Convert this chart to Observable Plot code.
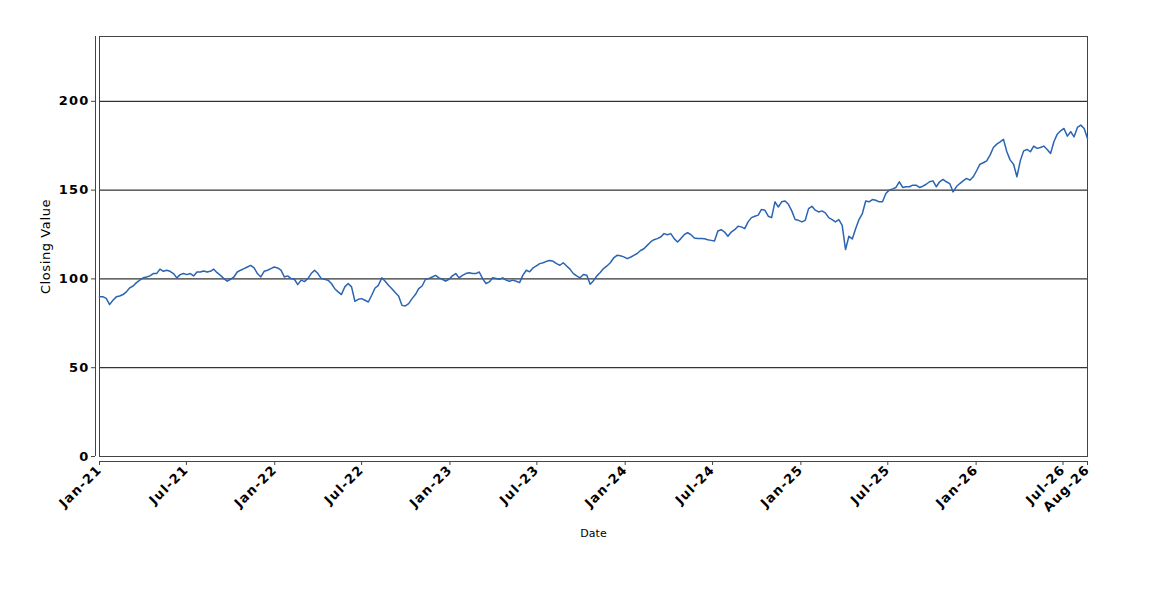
<!DOCTYPE html>
<html>
<head>
<meta charset="utf-8">
<script src="https://cdn.jsdelivr.net/npm/d3@7"></script>
<script src="https://cdn.jsdelivr.net/npm/@observablehq/plot@0.6"></script>
<style>
  html, body { margin: 0; padding: 0; background: #fff; }
  #chart svg { display: block; }
</style>
</head>
<body>
<div id="chart"></div>
<script>
// Weekly closing values (first week starts 2021-01-01)
const startDate = "2021-01-01";
const stepDays = 7;
const closingValues = [
  89.9, 90, 89, 85.5, 88, 89.9, 90.4, 91.2, 92.7, 95,
  96, 97.9, 99.3, 100.6, 101.1, 101.7, 103, 103, 105.5, 104.3,
  104.9, 104.3, 103, 100.6, 102.4, 103, 102.4, 103, 101.7, 103.9,
  103.9, 104.5, 103.9, 104.3, 105.5, 103.5, 102, 100.2, 98.7, 99.8,
  101.1, 103.9, 104.9, 105.8, 106.7, 107.6, 106.2, 103, 101.1, 104.3,
  104.9, 105.8, 106.7, 106.2, 104.9, 101.1, 101.7, 100.2, 99.8, 96.8,
  99.3, 98.5, 100.2, 103, 104.9, 103, 100.2, 99.8, 99.3, 97.4,
  94.5, 92.7, 91.2, 95.5, 97.4, 95.5, 87.4, 88.5, 88.9, 88,
  87, 90.8, 94.9, 96.4, 100.6, 98.7, 96.4, 94.5, 92.3, 90.4,
  85.1, 84.8, 86.1, 88.9, 91.2, 94.5, 96, 99.8, 100.2, 101.1,
  102, 100.6, 99.8, 98.7, 99.8, 101.7, 103, 100.6, 102, 103,
  103.5, 103, 103, 103.9, 100.2, 97.4, 98.3, 100.6, 100.2, 99.8,
  100.6, 99.3, 98.7, 99.3, 98.7, 97.9, 102.1, 104.9, 104, 106.2,
  107.3, 108.6, 109.1, 109.9, 110.4, 109.9, 108.6, 107.7, 109.1, 107.3,
  105.5, 103, 101.7, 100.6, 102.5, 102.1, 97, 99, 101.7, 103.6,
  105.8, 107.3, 109.1, 111.8, 113.3, 113, 112.4, 111.4, 112.2, 113.3,
  114.3, 116, 117, 118.9, 120.8, 122.1, 122.7, 123.6, 125.5, 124.9,
  125.5, 122.7, 120.8, 122.7, 124.9, 126, 124.9, 123, 122.7, 122.7,
  122.6, 122.1, 121.7, 121.3, 127, 127.7, 126.4, 124, 126.4, 127.7,
  129.6, 129.3, 128.3, 132.1, 134.5, 135.3, 135.9, 139.1, 138.7, 135.3,
  134.5, 143.4, 140.5, 143.4, 143.9, 142, 138.3, 133.4, 133, 132.1,
  133, 139.6, 140.9, 138.7, 137.7, 138.3, 137.2, 134.5, 133.4, 132.1,
  133.4, 130.2, 116.5, 124, 122.5, 128.3, 133.4, 136.8, 143.9, 143.4,
  144.7, 144.3, 143.4, 143.4, 148.1, 150, 150.7, 151.5, 154.7, 151.5,
  151.9, 151.9, 152.8, 152.8, 151.5, 152.2, 153.3, 154.7, 155.2, 151.9,
  154.7, 156, 154.7, 153.7, 149, 152, 153.7, 155.2, 156.6, 155.6,
  157.5, 160.9, 164.6, 165.4, 166.5, 169.7, 174, 175.9, 177.2, 178.6,
  171.6, 166.9, 164.6, 157.5, 166.5, 172.1, 172.9, 171.6, 174.8, 173.5,
  174, 174.8, 172.9, 170.6, 177.2, 181.5, 183.4, 184.7, 180.4, 182.9,
  180, 185.3, 186.6, 184.7, 179.1
];
const xTickDates = [
  "2021-01-01", "2021-07-01", "2022-01-01", "2022-07-01", "2023-01-01",
  "2023-07-01", "2024-01-01", "2024-07-01", "2025-01-01", "2025-07-01",
  "2026-01-01", "2026-07-01"
];
const yTicks = [0, 50, 100, 150, 200];
const gridValues = [50, 100, 150, 200];
const yMax = 236.5;
const xLabel = "Date";
const yLabel = "Closing Value";

const start = new Date(startDate + "T00:00:00Z");
const data = closingValues.map((v, i) => ({
  date: d3.utcDay.offset(start, i * stepDays),
  value: v
}));
const endDate = data[data.length - 1].date;
const ticks = xTickDates.map(s => new Date(s + "T00:00:00Z")).concat([endDate]);
const fmt = d3.utcFormat("%b-%y");

const chart = Plot.plot({
  width: 1150,
  height: 600,
  marginTop: 36,
  marginBottom: 144,
  marginLeft: 99,
  marginRight: 63,
  style: { fontFamily: "DejaVu Sans", background: "#fff", color: "#000" },
  x: { type: "utc", domain: [start, endDate] },
  y: { domain: [0, yMax] },
  marks: [
    Plot.ruleY(gridValues, { stroke: "#000", strokeWidth: 1 }),
    Plot.frame({ stroke: "#444", strokeWidth: 1 }),
    Plot.ruleX([start], { dx: -4, stroke: "#444", strokeWidth: 1 }),
    Plot.ruleY([0], { dy: 5, stroke: "#444", strokeWidth: 1 }),
    Plot.axisY({
      ticks: yTicks, tickSize: 4, tickPadding: 2, dx: -4,
      fontSize: 13, fontWeight: "bold", label: null, stroke: "#444"
    }),
    Plot.axisX({
      ticks: ticks, tickFormat: fmt, tickRotate: -45, tickSize: 4, tickPadding: 2,
      dy: 5, fontSize: 13, fontWeight: "bold", label: null, stroke: "#444"
    }),
    Plot.lineY(data, { x: "date", y: "value", stroke: "#2a64b2", strokeWidth: 1.5 }),
    Plot.text([yLabel], { frameAnchor: "left", textAnchor: "middle", dx: -54, rotate: -90, fontSize: 13, fill: "#000" }),
    Plot.text([xLabel], { frameAnchor: "bottom", textAnchor: "middle", dy: 80, fontSize: 11, fill: "#000" })
  ]
});
const sel = d3.select(chart);
sel.selectAll('g[aria-label="x-axis tick label"] text, g[aria-label="y-axis tick label"] text')
  .style("letter-spacing", "1.2px");
sel.selectAll('g[aria-label="text"] text').filter(function() { return this.textContent === yLabel; })
  .style("letter-spacing", "0.6px");
document.getElementById("chart").appendChild(chart);
</script>
</body>
</html>
